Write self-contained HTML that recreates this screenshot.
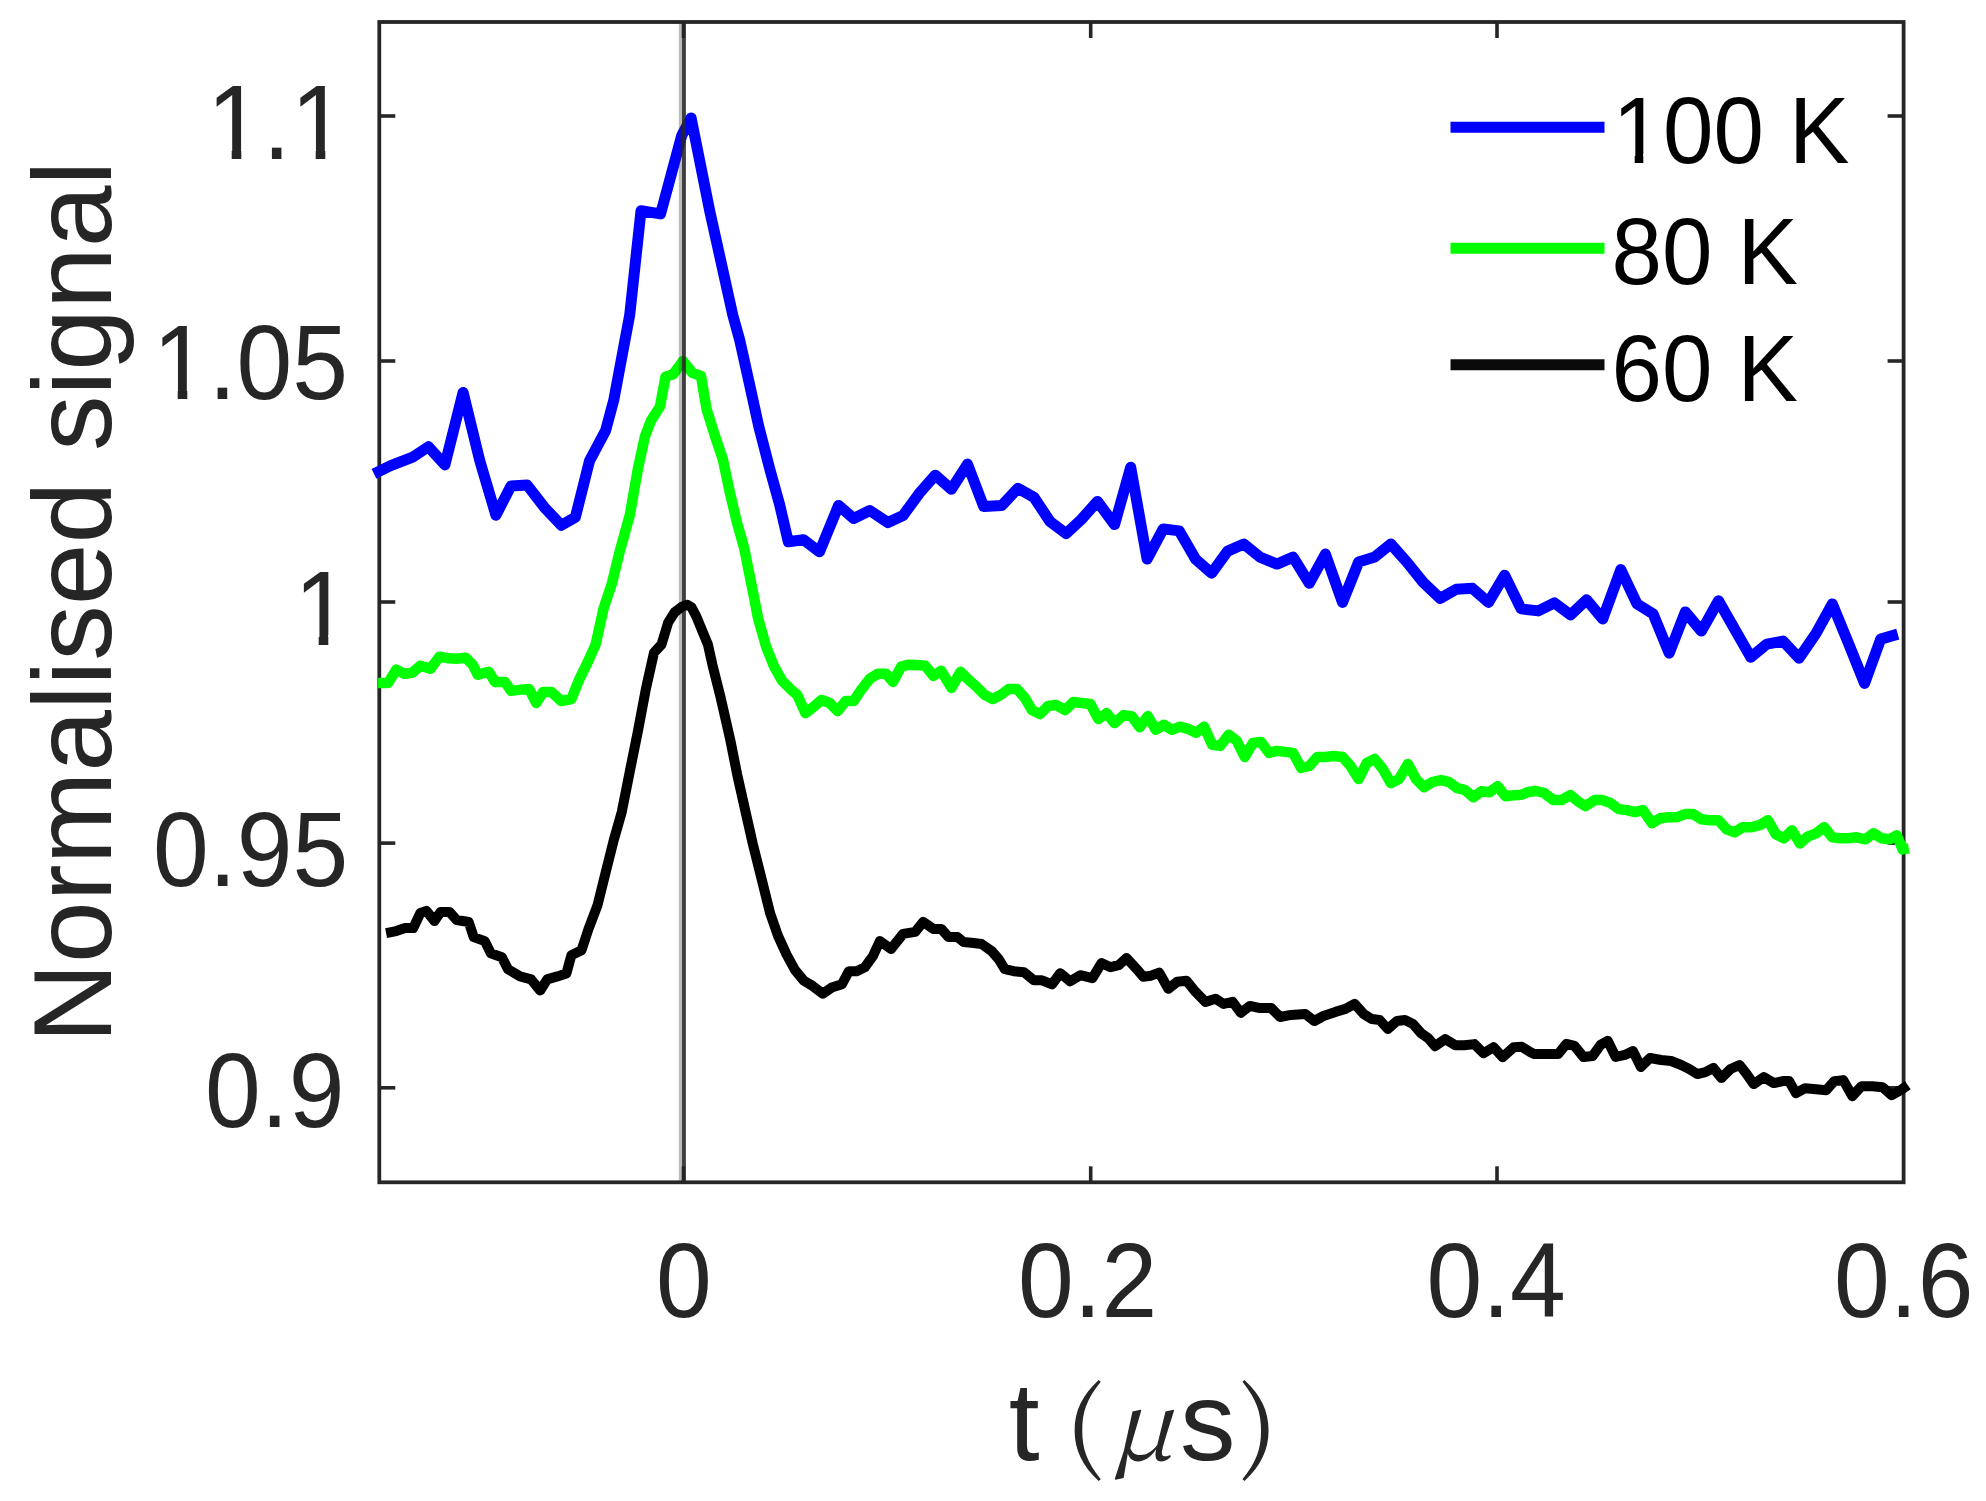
<!DOCTYPE html>
<html lang="en">
<head>
<meta charset="utf-8">
<title>Normalised signal vs t</title>
<style>
html,body{margin:0;padding:0;background:#fff;}
body{width:1986px;height:1501px;overflow:hidden;}
svg{display:block;}
text{font-family:"Liberation Sans",sans-serif;}
.tick text{font-size:105px;fill:#262626;}
.lab{font-size:111px;fill:#262626;}
.leg text{font-size:95px;fill:#000;}
.mu{font-family:"Noto Serif CJK SC","Liberation Serif",serif;font-style:italic;font-size:95px;}
.par{font-family:"Noto Serif CJK SC","Liberation Serif",serif;font-size:97.6px;}
</style>
</head>
<body>
<svg width="1986" height="1501" viewBox="0 0 1986 1501">
<defs><filter id="soft" x="0" y="0" width="1986" height="1501" filterUnits="userSpaceOnUse" color-interpolation-filters="sRGB"><feGaussianBlur stdDeviation="0.7"/></filter></defs>
<rect x="0" y="0" width="1986" height="1501" fill="#fff"/>
<g filter="url(#soft)">
<rect x="0" y="0" width="1986" height="1501" fill="#fff"/>
<g fill="none" stroke="#262626" stroke-width="3.8">
<rect x="379.3" y="22.0" width="1524.3" height="1160.3"/>
<g stroke-width="3.6"><line x1="379.3" y1="116" x2="395.3" y2="116"/><line x1="1903.6" y1="116" x2="1887.6" y2="116"/><line x1="379.3" y1="361" x2="395.3" y2="361"/><line x1="1903.6" y1="361" x2="1887.6" y2="361"/><line x1="379.3" y1="602" x2="395.3" y2="602"/><line x1="1903.6" y1="602" x2="1887.6" y2="602"/><line x1="379.3" y1="843.1" x2="395.3" y2="843.1"/><line x1="1903.6" y1="843.1" x2="1887.6" y2="843.1"/><line x1="379.3" y1="1087.8" x2="395.3" y2="1087.8"/><line x1="1903.6" y1="1087.8" x2="1887.6" y2="1087.8"/><line x1="683.5" y1="1182.3" x2="683.5" y2="1166.3"/><line x1="683.5" y1="22.0" x2="683.5" y2="38.0"/><line x1="1090.7" y1="1182.3" x2="1090.7" y2="1166.3"/><line x1="1090.7" y1="22.0" x2="1090.7" y2="38.0"/><line x1="1497.0" y1="1182.3" x2="1497.0" y2="1166.3"/><line x1="1497.0" y1="22.0" x2="1497.0" y2="38.0"/></g>
</g>
<g fill="none" stroke-linejoin="round" stroke-linecap="butt">
<path id="c100" stroke="#0000ff" stroke-width="11" d="M374.0,473.9 L390.1,465.9 L413.3,456.8 L428.4,446.7 L444.9,464.9 L463.1,392.4 L479.8,460.8 L495.9,515.2 L511.0,486.0 L527.1,485.0 L544.2,507.2 L561.3,525.3 L575.4,517.2 L589.5,460.8 L605.6,430.6 L613.7,400.4 L629.7,315.1 L641.0,210.8 L660.6,213.9 L681.8,135.3 L691.1,117.9 L709.7,210.8 L732.8,315.1 L739.7,340.0 L749.3,383.3 L758.8,426.6 L770.0,469.9 L779.6,504.5 L788.3,541.7 L803.4,539.7 L819.5,551.8 L838.6,505.4 L853.7,518.5 L869.8,510.5 L888.0,522.6 L903.1,515.5 L919.2,493.4 L935.3,475.2 L951.4,489.3 L967.5,464.1 L983.6,506.4 L1001.8,505.4 L1017.9,488.3 L1034.0,497.4 L1050.1,521.6 L1066.2,533.6 L1081.3,519.5 L1097.4,501.4 L1114.6,524.6 L1130.7,467.2 L1147.1,559.1 L1163.2,528.9 L1179.3,530.9 L1195.5,559.1 L1211.6,573.2 L1227.7,551.1 L1243.8,544.0 L1259.9,557.1 L1277.0,564.1 L1293.1,557.1 L1309.3,583.3 L1325.4,554.1 L1342.5,602.4 L1358.6,562.1 L1374.7,557.1 L1390.8,544.0 L1406.9,562.1 L1423.1,582.3 L1440.2,598.4 L1456.3,589.3 L1472.4,588.3 L1488.5,602.4 L1504.6,575.2 L1521.1,608.9 L1538.3,610.9 L1554.4,602.9 L1570.5,614.9 L1586.6,599.8 L1602.7,619.0 L1620.8,569.6 L1637.0,603.9 L1653.1,613.9 L1669.2,653.2 L1685.3,611.9 L1701.4,631.1 L1718.5,600.8 L1734.6,629.0 L1750.8,657.2 L1766.9,644.1 L1783.0,641.1 L1799.1,658.2 L1816.2,633.1 L1832.3,603.9 L1848.4,643.1 L1864.6,683.4 L1880.7,639.1 L1897.8,634.1"/>
<path id="c80" stroke="#00ff00" stroke-width="10.5" d="M378.1,682.9 L388.1,682.9 L396.2,669.8 L404.2,673.8 L412.3,672.8 L420.4,665.7 L430.4,668.8 L439.5,656.7 L448.5,658.3 L456.6,658.7 L465.7,657.7 L472.7,664.7 L477.8,674.8 L488.8,671.8 L494.9,681.9 L504.9,681.9 L511.0,690.9 L519.0,689.9 L529.1,688.9 L536.2,703.0 L543.2,691.9 L551.3,691.9 L561.3,701.0 L571.4,699.0 L579.5,678.8 L587.5,662.7 L595.6,644.6 L603.6,608.3 L611.7,584.2 L619.7,551.5 L629.8,515.2 L637.9,468.9 L644.9,436.7 L651.0,420.6 L660.0,406.5 L665.5,376.8 L673.3,374.2 L682.9,361.0 L692.4,372.9 L701.0,376.0 L706.6,409.3 L714.8,435.5 L722.9,459.5 L729.5,491.0 L736.8,521.8 L744.1,547.8 L749.3,573.8 L754.5,599.7 L758.1,618.4 L766.1,646.6 L774.2,666.7 L782.2,680.8 L790.3,688.9 L797.3,694.9 L805.4,713.1 L813.4,707.0 L821.5,700.0 L829.6,703.0 L837.6,711.1 L845.7,701.0 L853.7,701.0 L861.8,688.9 L869.8,678.8 L877.9,673.8 L886.0,673.8 L893.0,681.9 L901.1,666.7 L909.1,664.7 L917.2,665.1 L925.2,665.7 L933.3,675.8 L941.3,670.8 L951.4,687.9 L960.5,671.8 L968.5,679.8 L976.6,686.9 L984.6,694.9 L992.7,699.0 L1000.8,694.9 L1008.8,688.9 L1016.9,688.9 L1024.9,698.0 L1032.0,710.1 L1040.0,714.1 L1048.1,706.0 L1056.1,705.0 L1065.2,710.1 L1073.3,702.0 L1081.3,703.0 L1090.4,704.0 L1098.4,719.1 L1106.5,713.1 L1114.6,723.1 L1123.6,715.1 L1131.7,716.1 L1139.7,727.2 L1147.8,716.1 L1155.8,729.8 L1163.8,724.7 L1171.9,729.8 L1179.9,726.7 L1188.0,728.8 L1196.1,732.8 L1204.1,726.7 L1212.2,744.9 L1220.2,745.9 L1228.7,734.8 L1236.7,740.8 L1244.8,757.0 L1252.9,742.9 L1260.9,741.9 L1269.0,752.9 L1277.0,750.9 L1285.1,751.9 L1293.1,752.9 L1301.2,768.0 L1309.3,766.0 L1317.3,757.0 L1325.4,757.0 L1333.4,756.0 L1342.5,757.0 L1350.5,766.0 L1358.6,779.1 L1366.7,763.0 L1374.7,759.0 L1382.8,769.0 L1390.8,783.1 L1398.9,779.1 L1407.9,764.0 L1416.0,779.1 L1424.1,787.2 L1432.1,782.1 L1441.2,780.1 L1449.2,782.1 L1457.3,788.2 L1465.3,790.2 L1473.4,797.2 L1481.5,791.2 L1489.5,792.2 L1497.6,786.2 L1505.6,796.2 L1513.7,795.2 L1521.7,794.8 L1528.1,792.0 L1536.2,791.0 L1544.2,793.0 L1553.3,800.1 L1561.4,800.1 L1570.4,795.0 L1577.5,801.1 L1585.5,806.1 L1594.6,800.1 L1602.6,800.1 L1610.7,803.1 L1618.8,809.1 L1626.8,810.1 L1634.9,812.1 L1642.9,810.1 L1652.0,823.2 L1660.1,818.2 L1668.1,817.2 L1677.2,817.2 L1685.2,814.1 L1693.3,814.1 L1701.3,819.2 L1709.4,820.2 L1718.5,820.2 L1726.5,829.3 L1734.6,832.3 L1742.6,827.2 L1751.7,827.2 L1759.7,825.2 L1767.8,820.2 L1775.9,834.3 L1783.9,838.3 L1792.0,830.3 L1800.0,843.4 L1808.1,836.3 L1816.1,833.3 L1824.2,827.2 L1832.3,837.3 L1840.3,838.3 L1848.4,838.3 L1856.4,837.3 L1865.5,839.3 L1873.5,833.3 L1881.6,838.3 L1889.7,839.3 L1896.7,835.3 L1902.7,849.4 L1908.8,848.4"/>
<g id="vline" stroke="none">
<rect x="678.8" y="22.0" width="3.3" height="1160.3" fill="#262626" fill-opacity="0.3"/>
<rect x="682.0" y="22.0" width="3.9" height="1160.3" fill="#262626" fill-opacity="0.88"/>
</g>
<path id="c60" stroke="#000000" stroke-width="10" d="M386.1,933.1 L396.2,931.1 L405.2,928.0 L413.3,928.0 L420.4,912.9 L426.4,910.9 L434.5,921.0 L440.5,911.9 L449.6,911.9 L456.6,920.0 L468.7,922.0 L473.7,937.1 L484.8,941.1 L490.8,953.2 L501.9,957.2 L508.0,969.3 L520.1,976.4 L531.1,979.4 L540.2,990.5 L547.2,979.4 L557.3,976.4 L566.4,973.4 L571.4,955.2 L581.5,950.2 L588.5,929.0 L597.6,904.9 L605.6,872.6 L613.7,840.4 L621.8,811.8 L629.8,771.5 L637.9,731.2 L645.9,688.9 L654.0,652.6 L661.5,644.5 L668.2,622.4 L674.7,612.3 L682.0,606.6 L687.3,604.7 L691.5,607.2 L696.4,616.6 L700.3,626.2 L707.9,644.5 L712.4,664.7 L720.5,697.0 L730.3,740.0 L737.2,774.6 L745.0,809.3 L752.8,843.9 L761.5,878.5 L770.1,913.2 L777.9,935.7 L786.6,954.7 L795.2,970.3 L803.9,980.7 L812.6,985.9 L822.9,993.7 L831.6,987.6 L842.0,984.2 L848.9,971.2 L856.7,971.2 L864.8,967.2 L872.9,956.1 L879.9,941.0 L891.0,949.0 L903.1,933.9 L915.2,931.9 L923.2,921.9 L933.3,928.9 L941.3,928.9 L948.4,937.0 L957.5,937.0 L963.5,942.0 L973.6,943.0 L981.6,944.0 L991.7,951.1 L998.7,959.1 L1004.8,969.2 L1013.8,971.2 L1023.9,972.2 L1034.0,980.3 L1042.0,980.3 L1052.1,984.3 L1060.2,973.2 L1070.2,981.3 L1080.3,975.2 L1092.4,978.2 L1101.5,963.1 L1110.5,967.2 L1118.6,965.2 L1126.6,958.1 L1138.1,970.6 L1143.1,976.7 L1151.1,975.7 L1159.2,972.6 L1168.3,988.8 L1177.3,981.7 L1186.4,980.7 L1195.5,991.8 L1205.5,1001.9 L1215.6,998.8 L1223.7,1003.9 L1232.7,1001.9 L1240.8,1012.9 L1249.8,1005.9 L1258.9,1007.9 L1271.0,1007.9 L1280.1,1017.0 L1291.1,1014.9 L1305.2,1013.9 L1314.3,1021.0 L1323.4,1016.0 L1335.4,1011.9 L1345.5,1008.9 L1354.6,1003.9 L1363.6,1013.9 L1371.7,1019.0 L1379.7,1020.0 L1387.8,1029.0 L1396.9,1021.0 L1404.9,1020.0 L1413.0,1024.0 L1421.0,1033.1 L1428.1,1038.1 L1435.1,1046.2 L1445.2,1039.1 L1455.3,1045.2 L1464.3,1045.2 L1474.4,1044.1 L1483.5,1053.2 L1493.5,1047.2 L1502.6,1057.2 L1513.7,1047.2 L1521.7,1046.8 L1530.1,1051.9 L1534.2,1053.9 L1546.3,1053.9 L1558.3,1053.9 L1566.4,1043.9 L1574.5,1045.9 L1583.5,1057.0 L1592.6,1056.0 L1600.6,1044.9 L1607.7,1040.8 L1615.7,1057.0 L1624.8,1054.9 L1632.9,1050.9 L1640.9,1067.0 L1650.0,1058.0 L1661.1,1060.0 L1671.1,1061.0 L1681.2,1065.0 L1689.3,1069.0 L1697.3,1074.1 L1705.4,1072.1 L1713.4,1068.0 L1721.5,1078.1 L1730.5,1069.0 L1739.6,1065.0 L1746.7,1074.1 L1753.7,1084.1 L1763.8,1077.1 L1773.8,1083.1 L1782.9,1081.1 L1789.0,1081.1 L1796.0,1093.2 L1805.1,1088.2 L1816.1,1089.2 L1826.2,1090.2 L1834.3,1081.1 L1843.3,1080.1 L1852.4,1096.2 L1861.5,1086.2 L1872.5,1086.2 L1882.6,1087.2 L1891.7,1095.2 L1900.7,1090.2 L1907.8,1085.2"/>
</g>
<g class="leg">
<line x1="1450.5" y1="127.3" x2="1604.5" y2="127.3" stroke="#0000ff" stroke-width="11"/>
<line x1="1450.5" y1="248.2" x2="1604.5" y2="248.2" stroke="#00ff00" stroke-width="11"/>
<line x1="1450.5" y1="364.8" x2="1604.5" y2="364.8" stroke="#0a0a0a" stroke-width="11"/>
<text transform="translate(1612.5,162.8) scale(0.955,1)">100 K</text>
<text transform="translate(1611.5,283.6) scale(0.955,1)">80 K</text>
<text transform="translate(1611.5,400.6) scale(0.955,1)">60 K</text>
</g>
<g class="tick"><text transform="translate(346.5,159.2) scale(0.955,1)" text-anchor="end">1.1</text><text transform="translate(348,399.2) scale(0.955,1)" text-anchor="end">1.05</text><text transform="translate(350.1,645) scale(0.955,1)" text-anchor="end">1</text><text transform="translate(348.2,885.5) scale(0.955,1)" text-anchor="end">0.95</text><text transform="translate(344.5,1126.8) scale(0.955,1)" text-anchor="end">0.9</text><text transform="translate(683.8,1316.5) scale(0.955,1)" text-anchor="middle">0</text><text transform="translate(1087.6,1316.5) scale(0.955,1)" text-anchor="middle">0.2</text><text transform="translate(1496.2,1316.5) scale(0.955,1)" text-anchor="middle">0.4</text><text transform="translate(1903.8,1316.5) scale(0.955,1)" text-anchor="middle">0.6</text></g>
<text class="lab" transform="translate(110.7,602) rotate(-90)" text-anchor="middle">Normalised signal</text>
<text class="lab" x="1008.8" y="1459.5">t</text>
<text class="lab par" transform="translate(1064.7,1460.4) scale(1.1,1)">(</text>
<text class="lab mu" transform="translate(1110,1459.5) scale(1.04,1)">μ</text>
<text class="lab" x="1180" y="1459.5">s</text>
<text class="lab par" transform="translate(1239.2,1460.4) scale(1.1,1)">)</text>
<g id="serif-trim" fill="#fff"><rect x="213" y="149" width="18.69999999999999" height="12"/><rect x="241.3" y="149" width="18.69999999999999" height="12"/><rect x="296" y="149" width="19.69999999999999" height="12"/><rect x="325.3" y="149" width="18.69999999999999" height="12"/><rect x="158" y="389" width="19.69999999999999" height="12"/><rect x="187.3" y="389" width="18.69999999999999" height="12"/><rect x="300" y="635" width="18.69999999999999" height="12"/><rect x="328.3" y="635" width="18.69999999999999" height="12"/><rect x="1617" y="154" width="17.700000000000045" height="11"/><rect x="1643.3" y="154" width="17.700000000000045" height="11"/></g>
</g>
</svg>
</body>
</html>
